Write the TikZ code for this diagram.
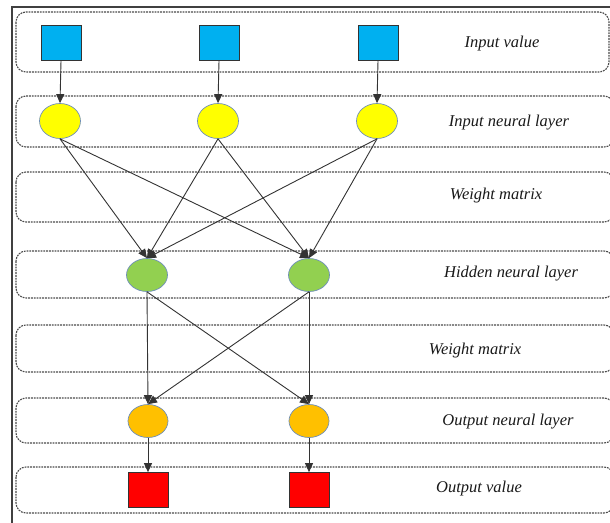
\documentclass[tikz,border=0pt]{standalone}
\usepackage{fontspec}
\setmainfont{Liberation Serif}
\usetikzlibrary{shapes.geometric,arrows.meta}
\definecolor{inblue}{HTML}{00B0F0}
\definecolor{inyellow}{HTML}{FFFF00}
\definecolor{hidgreen}{HTML}{92D050}
\definecolor{outorange}{HTML}{FFC000}
\definecolor{outred}{HTML}{FF0000}
\definecolor{rimblue}{HTML}{6F8FB8}
\definecolor{dashgray}{HTML}{4A4A4A}
\tikzset{
  layerbox/.style={draw=dashgray, line width=1.1pt, dash pattern=on 1.8pt off 1pt, rounded corners=10pt},
  sqnode/.style={draw=black!80, line width=0.7pt, minimum width=40pt, minimum height=35pt, inner sep=0pt},
  neuron/.style={ellipse, draw=rimblue, line width=0.7pt, minimum width=41pt, minimum height=35pt, inner sep=0pt},
  link/.style={draw=black!80, line width=0.9pt, -{Triangle[length=9pt,width=8pt]}},
  caption/.style={font=\itshape\fontsize{16.5}{19}\selectfont, text=black!90}
}
\begin{document}
\begin{tikzpicture}[x=1pt,y=-1pt]
\useasboundingbox (0,0) rectangle (610,522);
% outer frame
\draw[line width=1.3pt, draw=black!75] (12,530) -- (12,7) -- (620,7);
% layer bands
\draw[layerbox] (16,12) rectangle (609,72);
\draw[layerbox] (16,96) rectangle (614,147);
\draw[layerbox] (16,172) rectangle (614,222);
\draw[layerbox] (16,251) rectangle (614,298);
\draw[layerbox] (16,325) rectangle (614,372);
\draw[layerbox] (16,398) rectangle (614,443);
\draw[layerbox] (16,467) rectangle (614,513);
% captions
\node[caption] (c1) at (502,44) {Input value};
\node[caption] (c2) at (509,123) {Input neural layer};
\node[caption] (c3) at (496,196) {Weight matrix};
\node[caption] (c4) at (511,274) {Hidden neural layer};
\node[caption] (c5) at (475,351) {Weight matrix};
\node[caption] (c6) at (508,422) {Output neural layer};
\node[caption] (c7) at (479,489) {Output value};
% input values
\node[sqnode, fill=inblue] (i1) at (61,43) {};
\node[sqnode, fill=inblue] (i2) at (219,43) {};
\node[sqnode, fill=inblue] (i3) at (378,43) {};
% input neurons
\node[neuron, fill=inyellow] (a1) at (60,121) {};
\node[neuron, fill=inyellow] (a2) at (218,121) {};
\node[neuron, fill=inyellow] (a3) at (377,121) {};
% hidden neurons
\node[neuron, fill=hidgreen, minimum height=33pt] (h1) at (147,275) {};
\node[neuron, fill=hidgreen, minimum height=33pt] (h2) at (309,275) {};
% output neurons
\node[neuron, fill=outorange, minimum width=40pt, minimum height=33pt] (o1) at (148,421) {};
\node[neuron, fill=outorange, minimum width=40pt, minimum height=33pt] (o2) at (309,421) {};
% output values
\node[sqnode, fill=outred] (r1) at (148,490) {};
\node[sqnode, fill=outred] (r2) at (309,490) {};
% connections
\foreach \k in {1,2,3} {
  \draw[link] (i\k.south) -- (a\k.north);
  \draw[link] (a\k.south) -- (h1.north);
  \draw[link] (a\k.south) -- (h2.north);
}
\foreach \k in {1,2} {
  \draw[link] (h\k.south) -- (o1.north);
  \draw[link] (h\k.south) -- (o2.north);
  \draw[link] (o\k.south) -- (r\k.north);
}
\end{tikzpicture}
\end{document}
